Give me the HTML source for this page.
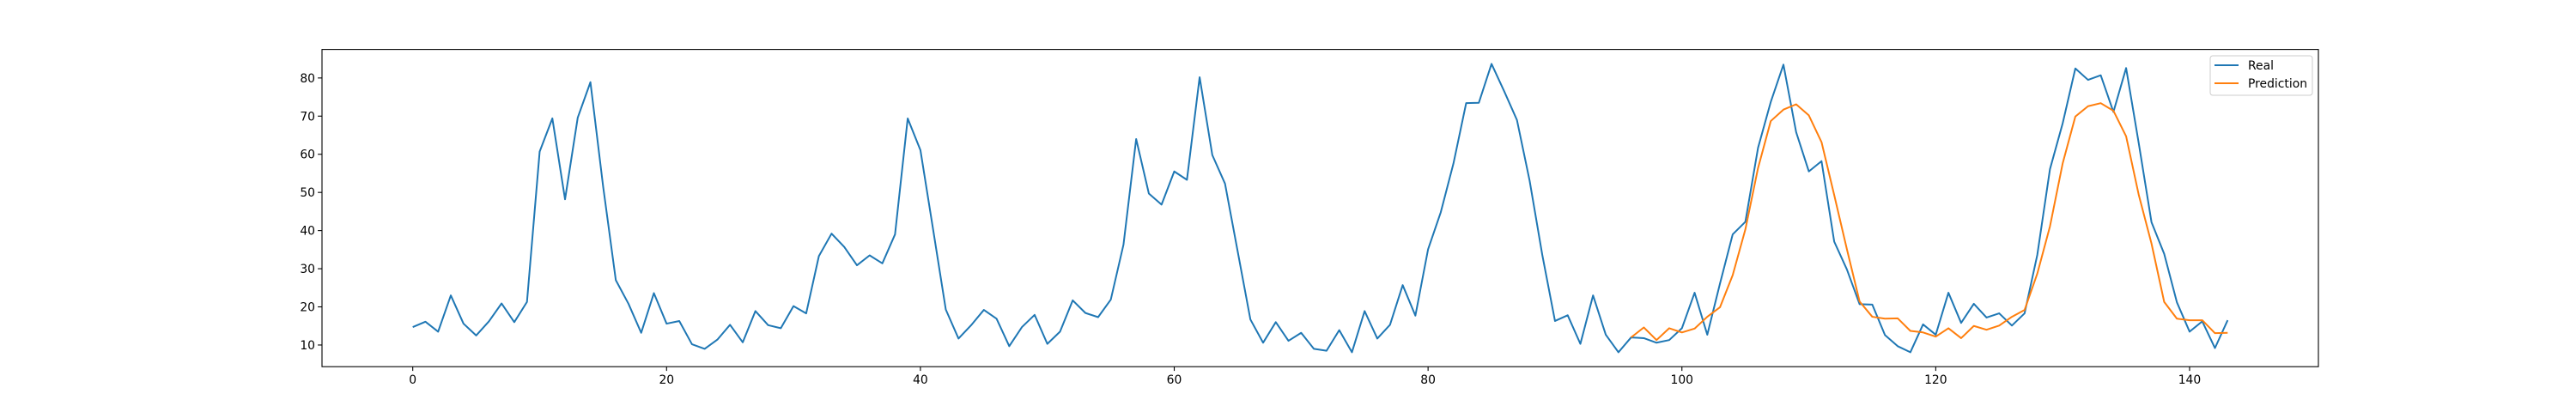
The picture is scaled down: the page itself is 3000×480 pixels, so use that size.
<!DOCTYPE html>
<html><head><meta charset="utf-8"><style>
html,body{margin:0;padding:0;background:#fff;}
svg{display:block;font-family:"DejaVu Sans","Liberation Sans",sans-serif;}
</style></head><body>
<svg id="chart" width="3000" height="480" xmlns="http://www.w3.org/2000/svg">
<rect x="0" y="0" width="3000" height="480" fill="#fff"/>
<g id="plot"></g>
</svg>
<script>
const realValues = [14.7,16.1,13.5,23.0,15.6,12.5,16.2,20.9,16.0,21.3,60.7,69.4,48.2,69.6,78.9,51.6,27.0,20.8,13.2,23.6,15.6,16.3,10.2,9.0,11.4,15.3,10.7,18.9,15.2,14.4,20.2,18.3,33.3,39.2,35.7,30.9,33.5,31.4,39.0,69.4,61.1,40.3,19.3,11.7,15.2,19.2,16.9,9.7,14.7,17.9,10.3,13.5,21.7,18.4,17.3,21.9,36.3,64.0,49.7,46.8,55.5,53.3,80.2,59.8,52.3,34.5,16.7,10.6,16.0,11.1,13.2,9.0,8.5,13.9,8.1,18.9,11.7,15.3,25.7,17.7,35.1,44.8,57.6,73.4,73.5,83.7,76.5,69.0,53.1,33.6,16.3,17.8,10.3,23.0,12.7,8.1,12.0,11.8,10.6,11.3,14.4,23.7,12.7,26.1,39.0,42.3,61.7,73.7,83.5,65.8,55.5,58.2,37.1,29.8,20.7,20.6,12.6,9.7,8.1,15.4,12.7,23.7,15.8,20.8,17.2,18.3,15.1,18.3,33.6,56.1,68.1,82.5,79.5,80.7,71.1,82.6,62.8,42.2,33.9,21.2,13.5,16.2,9.2,16.5];
const predStart = 96;
const predValues = [12.0,14.6,11.3,14.4,13.3,14.3,17.4,19.9,28.3,40.3,56.4,68.7,71.7,73.1,70.2,63.2,49.3,35.1,21.4,17.4,16.9,17.0,13.7,13.3,12.2,14.4,11.8,15.0,14.0,15.1,17.4,19.2,28.7,41.1,57.6,69.9,72.6,73.4,71.4,64.7,49.3,36.6,21.3,16.9,16.5,16.5,13.1,13.2];
const xTicks = [0,20,40,60,80,100,120,140];
const yTicks = [10,20,30,40,50,60,70,80];

const L=375,R=2700,T=57.6,B=427.2;
const allV = realValues.concat(predValues);
const n = realValues.length-1;
const xmin = -0.05*n, xmax = n*1.05;
const vmin=Math.min(...allV), vmax=Math.max(...allV), pad=(vmax-vmin)*0.05;
const ymin=vmin-pad, ymax=vmax+pad;
const sx = v => L + (v-xmin)/(xmax-xmin)*(R-L);
const sy = v => B - (v-ymin)/(ymax-ymin)*(B-T);
const NS="http://www.w3.org/2000/svg";
const g=document.getElementById('plot');
function mk(tag,attrs){const e=document.createElementNS(NS,tag);for(const k in attrs)e.setAttribute(k,attrs[k]);g.appendChild(e);return e;}

xTicks.forEach(t=>{
  const x=sx(t);
  const tk=mk('line',{x1:x,x2:x,y1:B,y2:B+4.9,stroke:'#000','stroke-width':1.1});
  
  
  const tx=mk('text',{x:x,y:B+20,'text-anchor':'middle','font-size':13.9,fill:'#000'});
  tx.textContent=t;
  
  
});
yTicks.forEach(t=>{
  const y=sy(t);
  const tk=mk('line',{x1:L-4.9,x2:L,y1:y,y2:y,stroke:'#000','stroke-width':1.1});
  
  
  const tx=mk('text',{x:L-8,y:y+5,'text-anchor':'end','font-size':13.9,fill:'#000'});
  tx.textContent=t;
  
  
});

const rp=realValues.map((v,i)=>sx(i).toFixed(2)+','+sy(v).toFixed(2)).join(' ');
const real=mk('polyline',{points:rp,fill:'none',stroke:'#1f77b4','stroke-width':2,'stroke-linejoin':'round'});


const pp=predValues.map((v,i)=>sx(i+predStart).toFixed(2)+','+sy(v).toFixed(2)).join(' ');
const pred=mk('polyline',{points:pp,fill:'none',stroke:'#ff7f0e','stroke-width':2,'stroke-linejoin':'round'});



const frame=mk('rect',{x:L,y:T,width:R-L,height:B-T,fill:'none',stroke:'#000','stroke-width':1.1});



const lg=mk('rect',{x:2574,y:65,width:119,height:46,rx:3,fill:'#fff','fill-opacity':0.8,stroke:'#ccc','stroke-width':1});


[['Real','#1f77b4',76],['Prediction','#ff7f0e',97]].forEach(([lab,c,y])=>{
  const ln=mk('line',{x1:2579,x2:2607,y1:y,y2:y,stroke:c,'stroke-width':2});
  
  
  const tx=mk('text',{x:2618,y:y+5,'font-size':13.9,fill:'#000'});
  tx.textContent=lab;
  
  
});
</script>
</body></html>
